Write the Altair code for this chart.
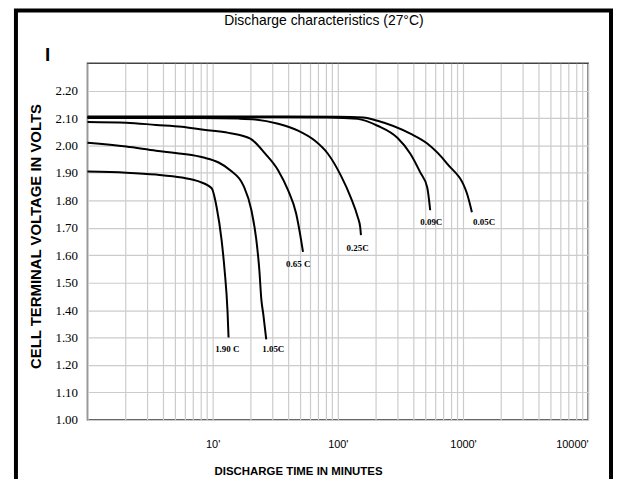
import altair as alt
import pandas as pd

# ---- data ----
rates = ["1.90C", "1.05C", "0.65C", "0.25C", "0.09C", "0.05C"]

t_190 = [1.0, 2.04, 3.53, 5.67, 7.74, 9.82, 10.76, 11.79, 12.45, 13.15, 13.40]
v_190 = [1.905, 1.901, 1.894, 1.883, 1.869, 1.844, 1.775, 1.655, 1.547, 1.395, 1.300]

t_105 = [1.0, 2.04, 3.53, 5.67, 8.48, 11.16, 13.9, 17.62, 20.4, 22.35, 23.6, 24.5, 25.4, 26.8]
v_105 = [2.010, 1.996, 1.981, 1.970, 1.956, 1.938, 1.909, 1.854, 1.764, 1.655, 1.547, 1.438, 1.384, 1.293]

t_065 = [1.0, 2.04, 3.53, 5.67, 8.48, 13.4, 20.0, 26.3, 33.4, 40.1, 46.4, 50.9, 52.7]
v_065 = [2.086, 2.083, 2.075, 2.068, 2.057, 2.046, 2.025, 1.970, 1.909, 1.836, 1.753, 1.655, 1.612]

t_025 = [1.0, 7.74, 16.1, 21.9, 33.4, 48.1, 65.7, 83.3, 105.6, 126.8, 144.2, 151.0, 153.0]
v_025 = [2.100, 2.100, 2.098, 2.095, 2.079, 2.054, 2.017, 1.970, 1.891, 1.811, 1.739, 1.702, 1.673]

t_009 = [1.0, 20.0, 83.3, 144.0, 207.6, 299.0, 379.6, 455.6, 518.0, 547.0]
v_009 = [2.103, 2.103, 2.102, 2.097, 2.072, 2.028, 1.970, 1.902, 1.847, 1.764]

t_005 = [1.0, 20.0, 100.0, 160.0, 207.6, 379.6, 518.0, 746.0, 1076.0, 1178.0]
v_005 = [2.106, 2.106, 2.105, 2.102, 2.090, 2.043, 2.007, 1.934, 1.825, 1.757]

label_text = ["1.90 C", "1.05C", "0.65 C", "0.25C", "0.09C", "0.05C"]
label_t = [13.1, 30.5, 48.3, 144.0, 558.0, 1475.0]
label_v = [1.257, 1.257, 1.568, 1.626, 1.720, 1.720]

x_grid = [1, 2, 3, 4, 5, 6, 7, 8, 9,
          10, 20, 30, 40, 50, 60, 70, 80, 90,
          100, 200, 300, 400, 500, 600, 700, 800, 900,
          1000, 2000, 3000, 4000, 5000, 6000, 7000, 8000, 9000, 10000]
y_ticks = [1.0, 1.1, 1.2, 1.3, 1.4, 1.5, 1.6, 1.7, 1.8, 1.9, 2.0, 2.1, 2.2]

title_text = "Discharge characteristics (27°C)"
x_title = "DISCHARGE TIME IN MINUTES"
y_title = "CELL TERMINAL VOLTAGE IN VOLTS"

# ---- tables ----
rows = []
for r, ts, vs in zip(rates, [t_190, t_105, t_065, t_025, t_009, t_005],
                     [v_190, v_105, v_065, v_025, v_009, v_005]):
    for i, (t, v) in enumerate(zip(ts, vs)):
        rows.append({"rate": r, "i": i, "t": t, "v": v})
df = pd.DataFrame(rows)
labels = pd.DataFrame({"label": label_text, "t": label_t, "v": label_v})
one = pd.DataFrame({"title": [title_text], "mark": ["I"]})

xscale = alt.Scale(type="log", domain=[1, 10000], nice=False)
yscale = alt.Scale(domain=[1.0, 2.3], nice=False, zero=False)

lines = alt.Chart(df).mark_line(color="black", strokeWidth=2, interpolate="monotone").encode(
    x=alt.X("t:Q", scale=xscale, title=x_title,
            axis=alt.Axis(values=x_grid, tickCount=60,
                          labelExpr="indexof([10,100,1000,10000], datum.value) >= 0 ? datum.value + \"'\" : ''",
                          labelFlush=True, labelOverlap=False, labelPadding=19,
                          labelFont="Liberation Sans", labelFontSize=11, labelColor="black",
                          titleFont="Liberation Sans", titleFontSize=11.5, titleFontWeight="bold",
                          titleColor="black", titleX=212, titleY=52, titleAlign="center",
                          titleBaseline="middle")),
    y=alt.Y("v:Q", scale=yscale, title=y_title,
            axis=alt.Axis(values=y_ticks, tickCount=30, format=".2f", labelPadding=10,
                          labelOverlap=False, labelFlush=False, labelBound=False,
                          labelFont="Liberation Serif", labelFontSize=13, labelColor="black",
                          titleFont="Liberation Sans", titleFontSize=15, titleFontWeight="bold",
                          titleColor="black", titleX=-52, titleY=174, titleAngle=270,
                          titleAlign="center", titleBaseline="middle")),
    detail="rate:N",
    order="i:Q",
)

texts = alt.Chart(labels).mark_text(font="Liberation Serif", fontWeight="bold", fontSize=9,
                                    color="black", baseline="middle", align="center").encode(
    x=alt.X("t:Q", scale=xscale), y=alt.Y("v:Q", scale=yscale), text="label:N")

frame = alt.Chart(one).mark_rect(fillOpacity=0, stroke="black", strokeWidth=4).encode(
    x=alt.value(-72), x2=alt.value(527), y=alt.value(-53), y2=alt.value(500))

title = alt.Chart(one).mark_text(font="Liberation Sans", fontSize=14, color="black",
                                 baseline="middle", align="center").encode(
    x=alt.value(238), y=alt.value(-42), text="title:N")

bar = alt.Chart(one).mark_text(font="Liberation Sans", fontWeight="bold", fontSize=19,
                               color="black", baseline="middle", align="center").encode(
    x=alt.value(-40), y=alt.value(-8), text="mark:N")

chart = alt.layer(lines, texts, frame, title, bar).properties(
    width=504, height=359,
    autosize=alt.AutoSizeParams(type="none"),
    padding={"left": 80, "top": 54, "right": 25, "bottom": 58},
).configure_view(stroke="#444444", strokeWidth=1.5).configure_axis(
    grid=True, gridColor="#cccccc", gridWidth=1.2, domain=False, ticks=False
)

chart.save("out.html", embed_options={"renderer": "svg", "actions": False})
